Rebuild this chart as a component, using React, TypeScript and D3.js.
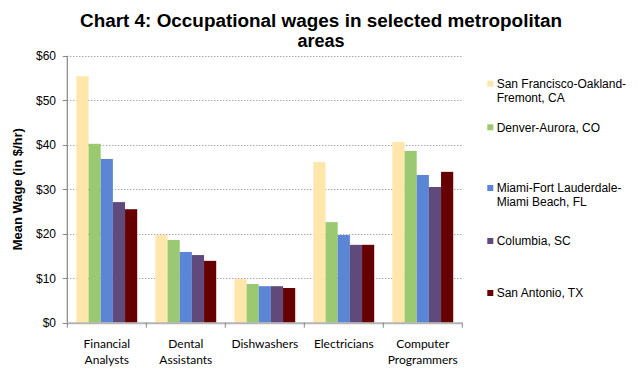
import React from "react";
import * as d3 from "d3";

const categories = ["Financial Analysts", "Dental Assistants", "Dishwashers", "Electricians", "Computer Programmers"];
const categoryLines = [["Financial", "Analysts"], ["Dental", "Assistants"], ["Dishwashers"], ["Electricians"], ["Computer", "Programmers"]];
const seriesNames = ["San Francisco-Oakland-Fremont, CA", "Denver-Aurora, CO", "Miami-Fort Lauderdale-Miami Beach, FL", "Columbia, SC", "San Antonio, TX"];
const seriesLegendLines = [["San Francisco-Oakland-", "Fremont, CA"], ["Denver-Aurora, CO"], ["Miami-Fort Lauderdale-", "Miami Beach, FL"], ["Columbia, SC"], ["San Antonio, TX"]];
const sanFrancisco = [55.4, 19.7, 9.8, 36.1, 40.6];
const denver = [40.2, 18.6, 8.7, 22.6, 38.6];
const miami = [36.8, 15.9, 8.2, 19.7, 33.2];
const columbia = [27.1, 15.2, 8.2, 17.5, 30.5];
const sanAntonio = [25.5, 13.9, 7.8, 17.5, 33.9];
const yTicks = [0, 10, 20, 30, 40, 50, 60];

const seriesValues = [sanFrancisco, denver, miami, columbia, sanAntonio];
const colors = ["#FFE6AB", "#9BC971", "#5B85D5", "#604A7B", "#660000"];
const legendCenters = [83.7, 127.3, 188, 241, 293];

export default function App() {
  const W = 638, H = 378;
  const left = 67.3, right = 462.3, top = 55.7, bottom = 322.7;
  const x = d3.scaleBand<string>().domain(categories).range([left, right]).paddingInner(0.23).paddingOuter(0.115);
  const xs = d3.scaleBand<string>().domain(seriesNames).range([0, x.bandwidth()]).padding(0);
  const y = d3.scaleLinear().domain([0, 60]).range([bottom, top]);
  const step = x.step();
  const boundaries = d3.range(categories.length + 1).map((i) => left + i * step);
  const font = "'Liberation Sans', Arial, sans-serif";

  return (
    <svg width={W} height={H} style={{ position: "absolute", left: 0, top: 0, background: "#fff" }}>
      <rect x={0} y={0} width={W} height={H} fill="#fff" />
      {/* title */}
      <text x={321} y={26.7} textAnchor="middle" fontFamily={font} fontWeight="bold" fontSize={18} textLength={482} lengthAdjust="spacingAndGlyphs">
        Chart  4: Occupational wages in selected metropolitan
      </text>
      <text x={321} y={46.7} textAnchor="middle" fontFamily={font} fontWeight="bold" fontSize={18}>
        areas
      </text>
      {/* gridlines */}
      {yTicks.filter((t) => t > 0).map((t) => (
        <line key={t} x1={left} x2={right} y1={Math.round(y(t)) + 0.5} y2={Math.round(y(t)) + 0.5} stroke="#808080" strokeWidth={1} strokeDasharray="1,2" />
      ))}
      {/* bars */}
      {seriesValues.map((vals, si) =>
        vals.map((v, ci) => (
          <rect key={si + "-" + ci} x={(x(categories[ci]) ?? 0) + (xs(seriesNames[si]) ?? 0)} y={y(v)} width={xs.bandwidth()} height={y(0) - y(v)} fill={colors[si]} />
        ))
      )}
      {/* axes */}
      <line x1={left} x2={left} y1={top} y2={bottom} stroke="#868686" strokeWidth={1.2} />
      <line x1={left} x2={right} y1={bottom + 0.5} y2={bottom + 0.5} stroke="#b4b4b4" strokeWidth={2} />
      {yTicks.map((t) => (
        <g key={t}>
          <line x1={left - 4.5} x2={left} y1={Math.round(y(t)) + 0.5} y2={Math.round(y(t)) + 0.5} stroke="#868686" />
          <text x={56} y={y(t) + 4.3} textAnchor="end" fontFamily={font} fontSize={12} fill="#000">
            {"$" + t}
          </text>
        </g>
      ))}
      {boundaries.map((bx, i) => (
        <line key={i} x1={bx} x2={bx} y1={bottom} y2={bottom + 5} stroke="#868686" />
      ))}
      {/* x labels */}
      {categories.map((c, ci) => (
        <text key={c} textAnchor="middle" fontFamily="Lato, 'Open Sans', sans-serif" fontSize={12} fill="#000">
          {categoryLines[ci].map((ln, li) => (
            <tspan key={li} x={(x(c) ?? 0) + x.bandwidth() / 2} y={348.3 + li * 16}>
              {ln}
            </tspan>
          ))}
        </text>
      ))}
      {/* y axis title */}
      <text transform={`translate(21.5,${(top + bottom) / 2}) rotate(-90)`} textAnchor="middle" fontFamily={font} fontWeight="bold" fontSize={13}>
        Mean Wage (in $/hr)
      </text>
      {/* legend */}
      {seriesNames.map((s, si) => (
        <g key={s}>
          <rect x={487.3} y={legendCenters[si] - 3} width={6} height={6} fill={colors[si]} />
          <text fontFamily={font} fontSize={12} fill="#000">
            {seriesLegendLines[si].map((ln, li) => (
              <tspan key={li} x={496.7} y={legendCenters[si] + 4.3 + li * 13.7}>
                {ln}
              </tspan>
            ))}
          </text>
        </g>
      ))}
    </svg>
  );
}
